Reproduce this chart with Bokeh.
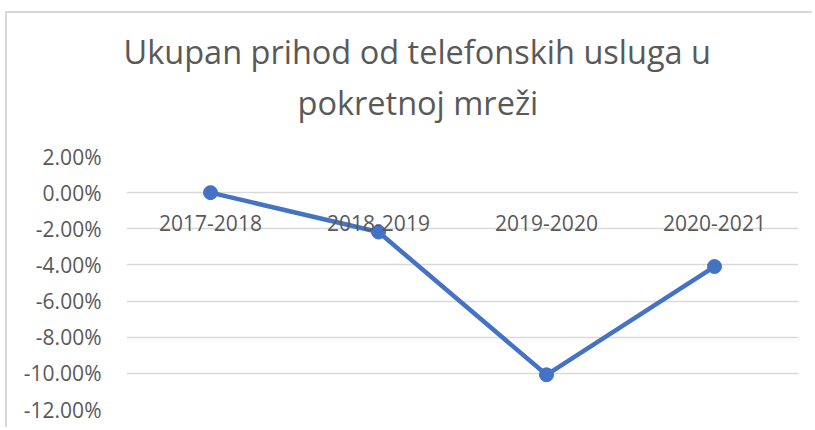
from bokeh.plotting import figure
from bokeh.models import FactorRange, Range1d, Title, NumeralTickFormatter, FixedTicker
from bokeh.embed import file_html
from bokeh.resources import INLINE

# ---- data ----
categories = ["2017-2018", "2018-2019", "2019-2020", "2020-2021"]
values = [0.0, -0.0218, -0.1008, -0.0409]
y_ticks = [-0.12, -0.10, -0.08, -0.06, -0.04, -0.02, 0.0, 0.02]
title_lines = ["Ukupan prihod od telefonskih usluga u", "pokretnoj mreži"]

FONT = "Open Sans"
GREY = "#595959"
BLUE = "#4472C4"

p = figure(
    width=807, height=416,
    x_range=FactorRange(*categories, range_padding=0),
    y_range=Range1d(y_ticks[0], y_ticks[-1]),
    output_backend="svg", toolbar_location=None, title_location=None,
    min_border_left=119, min_border_right=16,
    min_border_top=143, min_border_bottom=20,
)
p.styles = {
    "border-left": "2px solid #d9d9d9",
    "border-top": "2px solid #d9d9d9",
    "margin-top": "11px",
    "margin-left": "5px",
}
p.outline_line_color = None
p.background_fill_color = "white"
p.border_fill_color = "white"

# grid
p.xgrid.grid_line_color = None
p.ygrid.grid_line_color = "#d9d9d9"
p.ygrid.grid_line_width = 1.5

# y axis
p.yaxis.ticker = FixedTicker(ticks=y_ticks)
p.yaxis.formatter = NumeralTickFormatter(format="0.00%")
p.yaxis.axis_line_color = None
p.yaxis.major_tick_line_color = None
p.yaxis.minor_tick_line_color = None
p.yaxis.major_label_standoff = 19
p.yaxis.major_label_text_font = FONT
p.yaxis.major_label_text_font_size = "21px"
p.yaxis.major_label_text_color = GREY

# x axis (categories) crossing at zero
p.xaxis.fixed_location = 0
p.xaxis.axis_line_color = None
p.xaxis.major_tick_line_color = None
p.xaxis.minor_tick_line_color = None
p.xaxis.major_label_standoff = 16
p.xaxis.major_label_text_font = FONT
p.xaxis.major_label_text_font_size = "21px"
p.xaxis.major_label_text_color = GREY

# series
p.line(categories, values, line_color=BLUE, line_width=4.5, line_join="round")
p.scatter(categories, values, size=14, fill_color=BLUE, line_color=BLUE)

# title: spacer nearest the plot area, then second line, then first line
p.add_layout(Title(text=" ", text_font_size="23px", standoff=0), "above")
for txt, off, so in [(title_lines[1], 171, 8), (title_lines[0], -3, 0)]:
    p.add_layout(Title(
        text=txt, align="left", offset=off, standoff=so,
        text_font=FONT, text_font_size="32.5px", text_font_style="normal",
        text_color=GREY,
    ), "above")

open("out.html", "w").write(file_html(p, INLINE))
